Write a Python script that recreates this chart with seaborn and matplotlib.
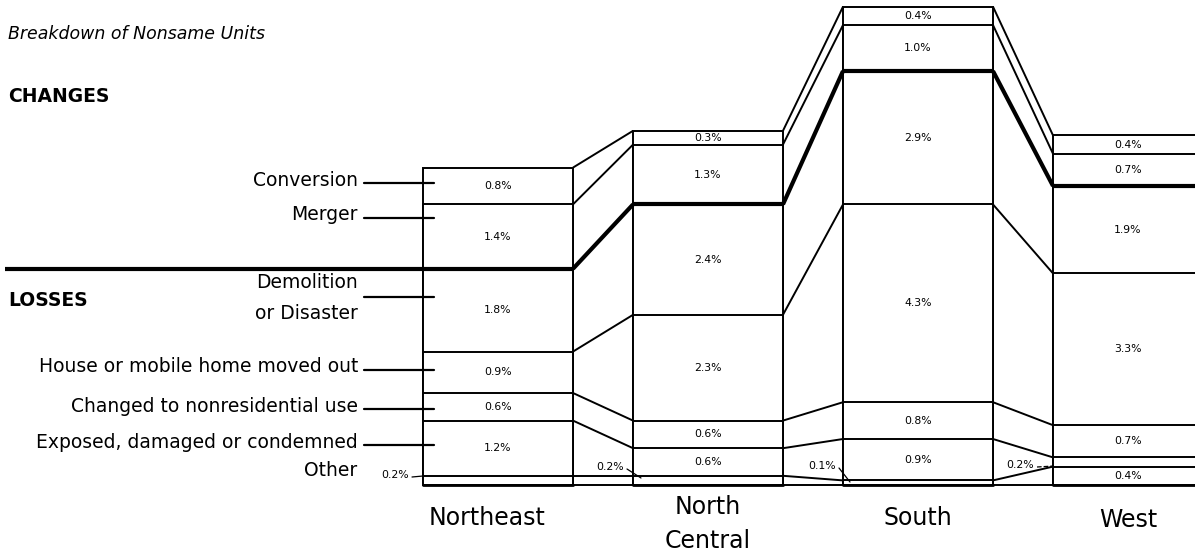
import matplotlib
matplotlib.use("Agg")
import matplotlib.pyplot as plt
import seaborn as sns
import pandas as pd
import numpy as np

# data (percent of units), stacked from bottom to top
regions = ["Northeast", "North\nCentral", "South", "West"]
categories = ["Other", "Exposed, damaged or condemned", "Changed to nonresidential use",
              "House or mobile home moved out", "Demolition\nor Disaster", "Merger", "Conversion"]
other = [0.2, 0.2, 0.1, 0.4]
exposed = [1.2, 0.6, 0.9, 0.2]
nonresidential = [0.6, 0.6, 0.8, 0.7]
moved_out = [0.9, 2.3, 4.3, 3.3]
demolition = [1.8, 2.4, 2.9, 1.9]
merger = [1.4, 1.3, 1.0, 0.7]
conversion = [0.8, 0.3, 0.4, 0.4]

series = [other, exposed, nonresidential, moved_out, demolition, merger, conversion]
rows = []
for cat, vals in zip(categories, series):
    for reg, v in zip(regions, vals):
        rows.append({"region": reg, "category": cat, "value": v})
df = pd.DataFrame(rows)
df["category"] = pd.Categorical(df["category"], categories, ordered=True)
df = df.sort_values(["region", "category"])
df["top"] = df.groupby("region")["value"].cumsum()
df["bottom"] = df["top"] - df["value"]

sns.set_theme(style="white")
plt.rcParams['font.family'] = ['DejaVu Sans']
plt.rcParams['text.color'] = 'black'

fig = plt.figure(figsize=(11.95, 5.54), dpi=100)
ax = fig.add_axes([0, 0, 1, 1])

W = 0.714
# draw stacked segments from the top one down, white boxes with black edges
for cat in categories[::-1]:
    sub = df[df["category"] == cat]
    sns.barplot(data=sub, x="region", y="top", order=regions, color="white",
                saturation=1, edgecolor="black", linewidth=1.4, width=W,
                errorbar=None, ax=ax)

# pixel helpers for layout of text
def px(x):
    return (x - 498) / 210.0

def py(y):
    return (485 - y) / 46.0

ax.set_xlim(px(0), px(1195))
ax.set_ylim(py(554), py(0))
ax.axis("off")

# connecting lines between bars at each boundary
levels = {}
for reg in regions:
    sub = df[df["region"] == reg].sort_values("category")
    levels[reg] = [0.0] + list(sub["top"])
thick_level = 5
for i in range(len(regions) - 1):
    a, b = levels[regions[i]], levels[regions[i + 1]]
    for k in range(len(a)):
        lw = 3.0 if k == thick_level else 1.4
        ax.plot([i + W / 2, i + 1 - W / 2], [a[k], b[k]], color="black", lw=lw,
                solid_capstyle="butt")
# thick lines across bars and the left separator
for i, reg in enumerate(regions):
    y = levels[reg][thick_level]
    x0 = px(5) if i == 0 else i - W / 2
    ax.plot([x0, i + W / 2], [y, y], color="black", lw=3.0, solid_capstyle="butt")
for i, reg in enumerate(regions):
    ax.plot([i - W / 2, i + W / 2], [0, 0], color="black", lw=2.0)

# value labels in the segments
outside = {(0, 0): (395, 475, 423, 476), (1, 0): (610, 467, 641, 478),
           (2, 0): (822, 466, 850, 482), (3, 1): (1020, 465, 1054, 466)}
for i, reg in enumerate(regions):
    sub = df[df["region"] == reg].sort_values("category")
    for k, (_, r) in enumerate(sub.iterrows()):
        txt = f"{r['value']:.1f}%"
        if (i, k) in outside:
            tx, ty, lx, ly = outside[(i, k)]
            ax.text(px(tx), py(ty), txt, ha="center", va="center", fontsize=7.8)
            ls = "--" if i == 3 else "-"
            ax.plot([px(tx + 17), px(lx)], [py(ty + 2), py(ly)], color="black",
                    lw=0.9, ls=ls)
        else:
            ax.text(i, (r["bottom"] + r["top"]) / 2, txt, ha="center", va="center",
                    fontsize=7.8)

# region names
region_y = [518, 524, 518, 520]
region_dx = [-0.05, 0.0, 0.0, 0.0]
for i, reg in enumerate(regions):
    ax.text(i + region_dx[i], py(region_y[i]), reg, ha="center", va="center",
            fontsize=17, linespacing=1.5)

# left titles and category labels with leaders
ax.text(px(8), py(34), "Breakdown of Nonsame Units", ha="left", va="center",
        fontsize=12.5, style="italic")
ax.text(px(8), py(97), "CHANGES", ha="left", va="center", fontsize=13.5,
        fontweight="bold")
ax.text(px(8), py(300), "LOSSES", ha="left", va="center", fontsize=13.5,
        fontweight="bold")

label_pos = [None, (443, 445), (407, 409), (367, 370), (298, 297), (214, 218), (180, 183)]
for k, cat in enumerate(categories):
    if k == 0:
        ax.text(px(357), py(470), "Other", ha="right", va="center", fontsize=13.5)
        continue
    ty, ly = label_pos[k]
    ax.text(px(358), py(ty), cat, ha="right", va="center", fontsize=13.5,
            linespacing=1.85)
    ax.plot([px(364), px(434)], [py(ly), py(ly)], color="black", lw=1.6)

fig.savefig("out.png", dpi=100)
